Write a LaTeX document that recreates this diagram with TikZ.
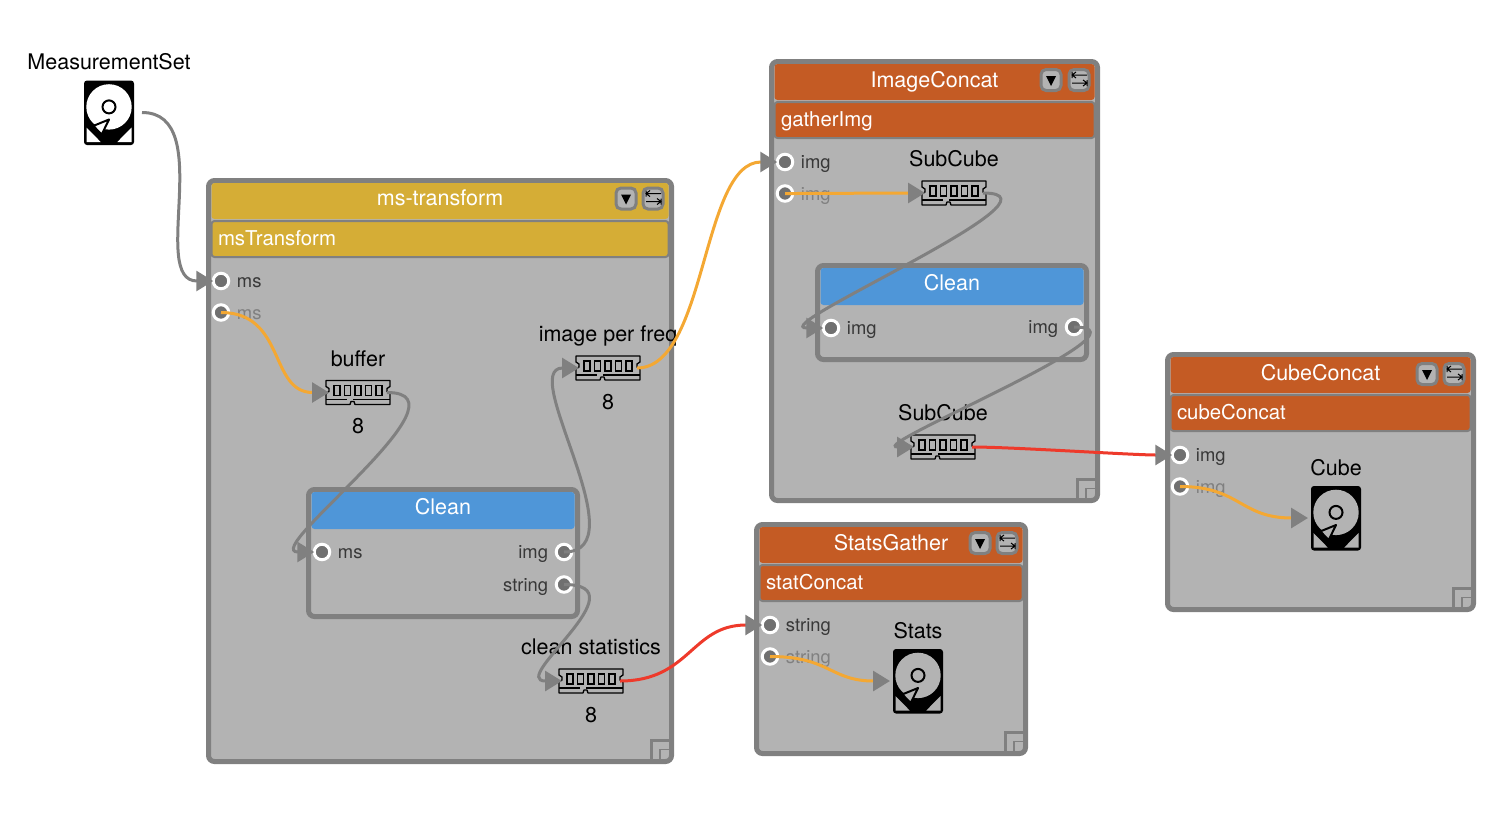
\documentclass[tikz,border=0pt]{standalone}
\usepackage{fontspec}
\setmainfont{TeX Gyre Heros}
\usepackage{tikz}
\usetikzlibrary{
  arrows.meta,
  positioning,
}
\definecolor{panelgrey}{HTML}{B3B3B3}
\definecolor{edgegrey}{HTML}{808080}
\definecolor{portgrey}{HTML}{707070}
\definecolor{goldbar}{HTML}{D5AD36}
\definecolor{rustbar}{HTML}{C45B24}
\definecolor{bluebar}{HTML}{4F96D8}
\definecolor{flowamber}{HTML}{F4A833}
\definecolor{flowred}{HTML}{EE3A2B}
\tikzstyle{block} = [
  rectangle,
  draw=edgegrey,
  fill=panelgrey,
  line width=5,
  rounded corners=6,
  outer sep=0,
  inner sep=0,
  anchor=north west,
]
\tikzstyle{titlebar} = [
  rectangle,
  rounded corners=3,
  outer sep=0,
  inner sep=0,
  text=white,
  text height=13,
  text depth=5,
  font=\fontsize{21.5}{24}\selectfont,
]
\tikzstyle{subbar} = [
  rectangle,
  draw=edgegrey,
  line width=2,
  rounded corners=3,
  outer sep=0,
  inner sep=0,
  minimum height=36,
  text=white,
  text height=15,
  text depth=3,
  font=\fontsize{20.4}{24}\selectfont,
]
\tikzstyle{port} = [
  circle,
  draw=white,
  fill=portgrey,
  line width=3,
  minimum size=15.5,
  inner sep=0,
  outer sep=0,
]
\tikzstyle{portlabel} = [
  inner sep=0,
  yshift=-2,
  text=black!78,
  font=\fontsize{18.4}{22}\selectfont,
]
\tikzstyle{datalabel} = [
  inner sep=0,
  yshift=-3,
  text height=15,
  text depth=5,
  font=\fontsize{21.5}{24}\selectfont,
]
\tikzstyle{chipnode} = [
  rectangle,
  minimum width=58,
  minimum height=24,
  inner sep=0,
  outer sep=0,
]
\tikzstyle{hddnode} = [
  rectangle,
  minimum width=56,
  minimum height=65,
  inner sep=0,
  outer sep=0,
]
\tikzstyle{flow} = [
  -{Triangle[length=17pt,width=20pt,color=edgegrey]},
  line width=3,
  edgegrey,
]
\tikzset{
  pics/chip/.style={code={
    \draw[line width=1.3,black,line join=round]
      (-32,-12) -- (32,-12) -- (32,-6) -- (29,-4) -- (29,-1) -- (32,1) -- (32,12)
      -- (-3,12) -- (-4,9) -- (-7,9) -- (-8,12) -- (-32,12) -- (-32,1) -- (-29,-1)
      -- (-29,-4) -- (-32,-6) -- cycle;
    \draw[line width=1.3,black] (-32,7) -- (-11,7) (-5,7) -- (32,7);
    \foreach \cx in {-21,-10.5,0,10.5,21}
      \draw[line width=1.3,black] (\cx-3,-7) rectangle (\cx+3,3);
  }},
  pics/hdd/.style={code={
    \fill[black,rounded corners=3] (-25,-32) rectangle (25,32.5);
    \fill[#1] (0,-5.6) circle (22.7);
    \fill[#1] (-22.5,15) -- (-22.5,29.5) -- (-8.3,29.5) -- cycle;
    \fill[#1] (22.5,15) -- (22.5,29.5) -- (8.3,29.5) -- cycle;
    \draw[black,line width=2,fill=#1] (0,-5.6) circle (6.5);
    \draw[black,line width=2,fill=#1,line join=round] (0,7) -- (-15.7,13.4) -- (-7.3,22) -- cycle;
  }},
  pics/dropbtn/.style={code={
    \draw[edgegrey,fill=panelgrey,line width=3,rounded corners=5] (-10,-10.5) rectangle (10,10.5);
    \fill[black] (-5,-4) -- (5,-4) -- (0,6) -- cycle;
  }},
  pics/swapbtn/.style={code={
    \draw[edgegrey,fill=panelgrey,line width=3,rounded corners=5] (-10,-10.5) rectangle (10,10.5);
    \draw[black,line width=1] (-7,-8) -- (-7,-2) (-7,-5) -- (8,-5) (-3,-8) -- (-7,-5) -- (-3,-2);
    \draw[black,line width=1] (8,0) -- (8,6) (8,3) -- (-7,3) (4,0) -- (8,3) -- (4,6);
  }},
  pics/resizer/.style={code={
    \draw[edgegrey,line width=2.5] (-20,0) -- (-20,-21) -- (0,-21);
    \draw[edgegrey,line width=1.8] (-11.5,0) -- (-11.5,-12) -- (0,-12);
  }},
}

\begin{document}
\begin{tikzpicture}[x=1pt,y=-1pt,node distance=0mm and 0mm]

      \useasboundingbox (0,0) rectangle (1510,812);

      \node[hddnode] (mset) at (109,112.5) {};
      \node[datalabel,above=8pt of mset] (msetlabel) {MeasurementSet};
      \pic at (mset) {hdd=white};

      \node[block,minimum width=463,minimum height=581] (msform) at (208.5,180.5) {};
      \node[titlebar,fill=goldbar,minimum width=457,minimum height=36,below=2.5pt of msform.north] (msformtitle) {ms-transform};
      \node[subbar,fill=goldbar,minimum width=457,below=2pt of msformtitle,align=left] (msformsub) {};
      \node[subbar,draw=none,fill=none,anchor=west,xshift=6.5] (msformtext) at (msformsub.west) {msTransform};
      \coordinate (msformdrop) at (626,198.5);
      \coordinate (msformswap) at (653,198.5);
      \pic at (msformdrop) {dropbtn};
      \pic at (msformswap) {swapbtn};
      \pic at (msform.south east) {resizer};

      \node[port] (msin) at (221,281) {};
      \node[port,below=16pt of msin] (msinner) {};
      \node[portlabel,right=8pt of msin] (msinlabel) {ms};
      \node[portlabel,right=8pt of msinner,text=black!50] (msinnerlabel) {ms};

      \node[chipnode] (buffer) at (358,392.5) {};
      \node[datalabel,above=12pt of buffer] (bufferlabel) {buffer};
      \node[datalabel,below=11pt of buffer] (buffernum) {8};
      \pic at (buffer) {chip};

      \node[chipnode] (perfreq) at (608,368) {};
      \node[datalabel,above=12pt of perfreq] (perfreqlabel) {image per freq};
      \node[datalabel,below=11pt of perfreq] (perfreqnum) {8};
      \pic at (perfreq) {chip};

      \node[block,minimum width=269,minimum height=127] (clean) at (308.5,489.5) {};
      \node[titlebar,fill=bluebar,minimum width=263,minimum height=37,below=2.5pt of clean.north] (cleantitle) {Clean};
      \node[port] (cleanms) at (322,552) {};
      \node[port] (cleanimg) at (564,552) {};
      \node[port,below=17pt of cleanimg] (cleanstr) {};
      \node[portlabel,right=8pt of cleanms] (cleanmslabel) {ms};
      \node[portlabel,left=8pt of cleanimg] (cleanimglabel) {img};
      \node[portlabel,left=8pt of cleanstr] (cleanstrlabel) {string};

      \node[chipnode] (cstats) at (591,681) {};
      \node[datalabel,above=12pt of cstats] (cstatslabel) {clean statistics};
      \node[datalabel,below=11pt of cstats] (cstatsnum) {8};
      \pic at (cstats) {chip};

      \node[block,minimum width=326,minimum height=439] (imgcon) at (771.5,61.5) {};
      \node[titlebar,fill=rustbar,text height=15,minimum width=320,minimum height=36,below=2.5pt of imgcon.north] (imgcontitle) {ImageConcat};
      \node[subbar,fill=rustbar,minimum width=320,below=2pt of imgcontitle] (imgconsub) {};
      \node[subbar,draw=none,fill=none,anchor=west,xshift=6.5] (imgcontext) at (imgconsub.west) {gatherImg};
      \coordinate (imgcondrop) at (1051,80);
      \coordinate (imgconswap) at (1079,80);
      \pic at (imgcondrop) {dropbtn};
      \pic at (imgconswap) {swapbtn};
      \pic at (imgcon.south east) {resizer};

      \node[port] (imgin) at (785,162) {};
      \node[port,below=16pt of imgin] (imginner) {};
      \node[portlabel,right=8pt of imgin] (imginlabel) {img};
      \node[portlabel,right=8pt of imginner,text=black!50] (imginnerlabel) {img};

      \node[chipnode] (subcubea) at (954,193) {};
      \node[datalabel,above=12pt of subcubea] (subcubealabel) {SubCube};
      \pic at (subcubea) {chip};

      \node[block,minimum width=269,minimum height=94] (cleanb) at (817.5,265.5) {};
      \node[titlebar,fill=bluebar,minimum width=263,minimum height=37,below=2.5pt of cleanb.north] (cleanbtitle) {Clean};
      \node[port] (cleanbin) at (831,328) {};
      \node[port] (cleanbout) at (1074,327) {};
      \node[portlabel,right=8pt of cleanbin] (cleanbinlabel) {img};
      \node[portlabel,left=8pt of cleanbout] (cleanboutlabel) {img};

      \node[chipnode] (subcubeb) at (943,447) {};
      \node[datalabel,above=12pt of subcubeb] (subcubeblabel) {SubCube};
      \pic at (subcubeb) {chip};

      \node[block,minimum width=269,minimum height=229] (statgat) at (756.5,524.5) {};
      \node[titlebar,fill=rustbar,text height=15,minimum width=263,minimum height=36,below=2.5pt of statgat.north] (statgattitle) {StatsGather};
      \node[subbar,fill=rustbar,minimum width=263,below=2pt of statgattitle] (statgatsub) {};
      \node[subbar,draw=none,fill=none,anchor=west,xshift=6.5] (statgattext) at (statgatsub.west) {statConcat};
      \coordinate (statgatdrop) at (980,543);
      \coordinate (statgatswap) at (1007,543);
      \pic at (statgatdrop) {dropbtn};
      \pic at (statgatswap) {swapbtn};
      \pic at (statgat.south east) {resizer};

      \node[port] (strin) at (770,625) {};
      \node[port,below=16pt of strin] (strinner) {};
      \node[portlabel,right=8pt of strin] (strinlabel) {string};
      \node[portlabel,right=8pt of strinner,text=black!50] (strinnerlabel) {string};

      \node[hddnode] (stats) at (918,681) {};
      \node[datalabel,above=8pt of stats] (statslabel) {Stats};
      \pic at (stats) {hdd=panelgrey};

      \node[block,minimum width=306,minimum height=255] (cubecon) at (1167.5,354.5) {};
      \node[titlebar,fill=rustbar,text height=15,minimum width=300,minimum height=36,below=2.5pt of cubecon.north] (cubecontitle) {CubeConcat};
      \node[subbar,fill=rustbar,minimum width=300,below=2pt of cubecontitle] (cubeconsub) {};
      \node[subbar,draw=none,fill=none,anchor=west,xshift=6.5] (cubecontext) at (cubeconsub.west) {cubeConcat};
      \coordinate (cubecondrop) at (1427,374);
      \coordinate (cubeconswap) at (1454,374);
      \pic at (cubecondrop) {dropbtn};
      \pic at (cubeconswap) {swapbtn};
      \pic at (cubecon.south east) {resizer};

      \node[port] (cubein) at (1180,455) {};
      \node[port,below=16pt of cubein] (cubeinner) {};
      \node[portlabel,right=8pt of cubein] (cubeinlabel) {img};
      \node[portlabel,right=8pt of cubeinner,text=black!50] (cubeinnerlabel) {img};

      \node[hddnode] (cube) at (1336,518) {};
      \node[datalabel,above=8pt of cube] (cubelabel) {Cube};
      \pic at (cube) {hdd=panelgrey};

      \draw[flow,shorten <=5pt] (mset.east) .. controls +(80,0) and +(-65,0) .. (msin.west);
      \draw[flow,flowamber] (msinner.center) .. controls +(65,0) and +(-60,0) .. (buffer.west);
      \draw[flow] (buffer.east) .. controls +(90,0) and +(-55,0) .. (cleanms.west);
      \draw[flow] (cleanimg.center) .. controls +(76,0) and +(-62,0) .. (perfreq.west);
      \draw[flow] (cleanstr.center) .. controls +(80,0) and +(-55,0) .. (cstats.west);
      \draw[flow,flowamber] (perfreq.east) .. controls +(70,0) and +(-76,0) .. (imgin.west);
      \draw[flow,flowamber] (imginner.center) .. controls +(65,0) and +(-65,0) .. (subcubea.west);
      \draw[flow] (subcubea.east) .. controls +(95,0) and +(-60,0) .. (cleanbin.west);
      \draw[flow] (cleanbout.center) .. controls +(88,0) and +(-50,0) .. (subcubeb.west);
      \draw[flow,flowred] (subcubeb.east) .. controls +(40,0) and +(-40,0) .. (cubein.west);
      \draw[flow,flowamber] (cubeinner.center) .. controls +(60,0) and +(-68,0) .. (cube.west);
      \draw[flow,flowred] (cstats.east) .. controls +(70,0) and +(-71,0) .. (strin.west);
      \draw[flow,flowamber] (strinner.center) .. controls +(60,0) and +(-60,0) .. (stats.west);

\end{tikzpicture}
\end{document}
